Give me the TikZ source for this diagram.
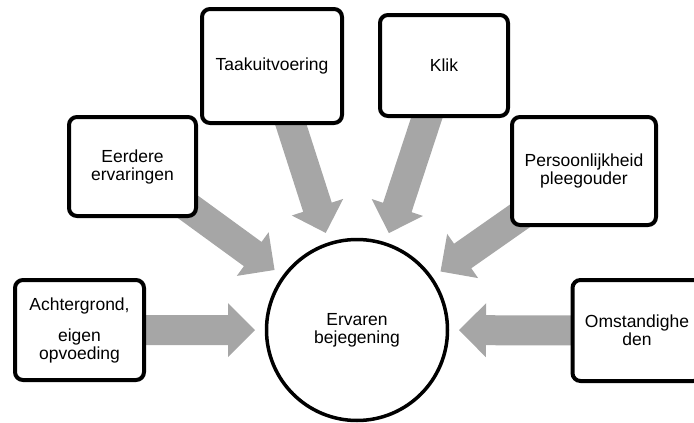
\documentclass[tikz,border=0pt]{standalone}
\usepackage{fontspec}
\setmainfont{Liberation Sans}
\usetikzlibrary{calc}
\definecolor{arrowgray}{HTML}{A6A6A6}
\pgfdeclarelayer{bg}
\pgfsetlayers{bg,main}
\def\blockarrow(#1)(#2){%
	\coordinate (tip) at ($(#2.center)!102pt!(#1.center)$);
	\coordinate (neck) at ($(tip)!27pt!(#1.center)$);
	\fill[arrowgray] ($(#1.center)!15pt!90:(tip)$) -- ($(neck)!15pt!90:(tip)$) -- ($(neck)!27pt!90:(tip)$) -- (tip)
		-- ($(neck)!27pt!-90:(tip)$) -- ($(neck)!15pt!-90:(tip)$) -- ($(#1.center)!15pt!-90:(tip)$) -- cycle;}

\begin{document}
\begin{tikzpicture}[x=1pt,y=-1pt,
	box/.style={draw,rectangle,rounded corners=8pt,line width=4pt,fill=white,align=center,font=\fontsize{17.5}{18}\selectfont}]
			%%%%% START %%%%%
			\clip (0,0) rectangle (694,423);
			
			\node[box,minimum width=129pt,minimum height=100pt] (acht) at (79.5,330) {Achtergrond,\\[13pt]eigen\\opvoeding};
			\node[box,minimum width=127pt,minimum height=99pt] (eerd) at (132.5,166.5) {Eerdere\\ervaringen};
			\node[box,minimum width=140pt,minimum height=114pt] (taak) at (272,66) {Taakuitvoering};
			\node[box,minimum width=128pt,minimum height=101pt] (klik) at (444,65.5) {Klik};
			\node[box,minimum width=144pt,minimum height=108pt] (pers) at (584,171) {Persoonlijkheid\\pleegouder};
			\node[box,minimum width=129pt,minimum height=101pt] (omst) at (637,330.5) {Omstandighe\\den};
			
			\node[circle,draw,line width=3.5pt,fill=white,minimum size=181pt,align=center,
				font=\fontsize{17.5}{18}\selectfont] (ervaren) at (357,330) {Ervaren\\bejegening};
			
			\begin{pgfonlayer}{bg}
			\foreach \from in {acht,eerd,taak,klik,pers,omst}
				\blockarrow(\from)(ervaren);
			\end{pgfonlayer}
			
			%%%%% END %%%%%
\end{tikzpicture}
\end{document}
